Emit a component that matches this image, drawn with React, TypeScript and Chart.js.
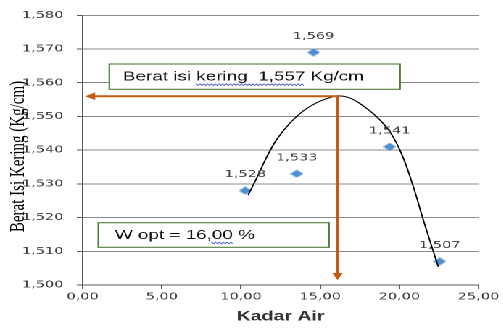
import React, { useEffect, useRef } from 'react';
import { Chart, registerables } from 'chart.js';

Chart.register(...registerables);

// ---- data ----
const xValues = [10.27, 13.52, 14.58, 19.39, 22.55];
const yValues = [1.528, 1.533, 1.569, 1.541, 1.507];
const pointLabels = ['1,528', '1,533', '1,569', '1,541', '1,507'];

const trendX = [10.45, 11.0, 11.63, 12.26, 13.1, 13.95, 14.79, 15.63, 16.1, 16.8, 17.52, 18.57, 19.41, 20.15, 20.88, 21.52, 22.15, 22.46];
const trendY = [1.5267, 1.5318, 1.538, 1.5432, 1.5481, 1.5517, 1.5541, 1.5556, 1.5561, 1.5556, 1.5538, 1.5499, 1.5454, 1.5388, 1.5292, 1.5192, 1.5099, 1.5054];

const xTickValues = [0, 5, 10, 15, 20, 25];
const xTickLabels = ['0,00', '5,00', '10,00', '15,00', '20,00', '25,00'];
const yTickValues = [1.5, 1.51, 1.52, 1.53, 1.54, 1.55, 1.56, 1.57, 1.58];
const yTickLabels = ['1,500', '1,510', '1,520', '1,530', '1,540', '1,550', '1,560', '1,570', '1,580'];

const optX = 16.1;
const optY = 1.556;
const arrowLeftX = 0.15;
const arrowBottomY = 1.5015;

const densityPrefix = 'Berat isi ';
const densityMarked = 'kering  1,557';
const densitySuffix = ' Kg/cm';
const woptPrefix = 'W opt = 16,';
const woptMarked = '00';
const woptSuffix = ' %';

const xTitle = 'Kadar Air';
const yTitle = 'Berat Isi Kering (Kg/cm)';

// ---- layout (logical px; the whole canvas is stretched horizontally) ----
const SX = 1.45;
const W = 347;
const H = 329;

const TICK_FONT = '10px "DejaVu Sans"';
const TEXT_COLOR = '#404040';
const ORANGE = '#c55a11';
const BOX_GREEN = '#4f7d3a';

function makeDiamond(): HTMLCanvasElement {
  const c = document.createElement('canvas');
  c.width = 9;
  c.height = 8;
  const g = c.getContext('2d')!;
  g.fillStyle = '#4f8fd0';
  g.beginPath();
  g.moveTo(4.5, 0);
  g.lineTo(9, 4);
  g.lineTo(4.5, 8);
  g.lineTo(0, 4);
  g.closePath();
  g.fill();
  return c;
}

function wavy(ctx: CanvasRenderingContext2D, x0: number, x1: number, y: number) {
  ctx.save();
  ctx.strokeStyle = '#4a63d8';
  ctx.lineWidth = 0.8;
  ctx.beginPath();
  let up = true;
  ctx.moveTo(x0, y);
  for (let px = x0; px <= x1; px += 1.3) {
    ctx.lineTo(px, y + (up ? -0.8 : 0.8));
    up = !up;
  }
  ctx.stroke();
  ctx.restore();
}

function drawBox(
  ctx: CanvasRenderingContext2D,
  bx: number, by: number, bw: number, bh: number, tx: number,
  prefix: string, marked: string, suffix: string
) {
  ctx.save();
  ctx.fillStyle = '#ffffff';
  ctx.fillRect(bx, by, bw, bh);
  ctx.strokeStyle = BOX_GREEN;
  ctx.lineWidth = 1.1;
  ctx.strokeRect(bx, by, bw, bh);
  ctx.font = '13px "Liberation Sans"';
  ctx.fillStyle = '#111111';
  ctx.textBaseline = 'middle';
  ctx.textAlign = 'left';
  const cy = by + bh / 2 + 0.5;
  const full = prefix + marked + suffix;
  ctx.fillText(full, tx, cy);
  const s = tx + ctx.measureText(prefix).width;
  const e = tx + ctx.measureText(prefix + marked).width;
  wavy(ctx, s, e, cy + 7.5);
  ctx.restore();
}

const annotPlugin = {
  id: 'annot',
  afterDatasetsDraw(chart: any) {
    const { ctx, scales } = chart;
    const x = scales.x;
    const y = scales.y;
    ctx.save();

    // text boxes
    drawBox(ctx, 75.4, 64, 200.5, 25.3, 84.8, densityPrefix, densityMarked, densitySuffix);
    drawBox(ctx, 67.8, 222.7, 159.1, 24.6, 79.3, woptPrefix, woptMarked, woptSuffix);

    // arrows
    const px = x.getPixelForValue(optX);
    const py = y.getPixelForValue(optY);
    const lx = x.getPixelForValue(arrowLeftX);
    const by = y.getPixelForValue(arrowBottomY);
    ctx.strokeStyle = ORANGE;
    ctx.fillStyle = ORANGE;
    ctx.lineWidth = 2;
    ctx.beginPath();
    ctx.moveTo(px + 0.7, py);
    ctx.lineTo(lx + 5, py);
    ctx.stroke();
    ctx.beginPath();
    ctx.moveTo(lx, py);
    ctx.lineTo(lx + 7, py - 3.8);
    ctx.lineTo(lx + 7, py + 3.8);
    ctx.closePath();
    ctx.fill();

    ctx.lineWidth = 1.8;
    ctx.beginPath();
    ctx.moveTo(px, py - 1);
    ctx.lineTo(px, by - 5);
    ctx.stroke();
    ctx.beginPath();
    ctx.moveTo(px, by);
    ctx.lineTo(px - 3.6, by - 7);
    ctx.lineTo(px + 3.6, by - 7);
    ctx.closePath();
    ctx.fill();

    // data labels
    const meta = chart.getDatasetMeta(1);
    ctx.font = TICK_FONT;
    ctx.fillStyle = TEXT_COLOR;
    ctx.textAlign = 'center';
    ctx.textBaseline = 'middle';
    meta.data.forEach((el: any, i: number) => {
      ctx.fillText(pointLabels[i], el.x, el.y - 16);
    });

    ctx.restore();
  },
  afterDraw(chart: any) {
    const { ctx, chartArea } = chart;
    ctx.save();
    // y title (overlapping tick labels)
    ctx.translate(12.4, 156.5);
    ctx.rotate(-Math.PI / 2);
    ctx.font = '15px "Liberation Serif"';
    ctx.fillStyle = '#000000';
    ctx.textAlign = 'center';
    ctx.textBaseline = 'middle';
    ctx.fillText(yTitle, 0, 0);
    ctx.restore();

    ctx.save();
    ctx.font = 'bold 13.5px "Liberation Sans"';
    ctx.fillStyle = '#333333';
    ctx.textAlign = 'center';
    ctx.textBaseline = 'middle';
    ctx.fillText(xTitle, (chartArea.left + chartArea.right) / 2, 317);
    ctx.restore();
  },
};

export default function App() {
  const ref = useRef<HTMLCanvasElement | null>(null);

  useEffect(() => {
    if (!ref.current) return;
    const diamond = makeDiamond();
    const chart = new Chart(ref.current, {
      type: 'scatter',
      data: {
        datasets: [
          {
            label: 'trend',
            data: trendX.map((v, i) => ({ x: v, y: trendY[i] })),
            showLine: true,
            borderColor: '#000000',
            borderWidth: 1,
            pointRadius: 0,
            tension: 0.4,
            fill: false,
          } as any,
          {
            label: 'data',
            data: xValues.map((v, i) => ({ x: v, y: yValues[i] })),
            pointStyle: diamond as any,
            pointRadius: 5,
            showLine: false,
          },
        ],
      },
      options: {
        animation: false,
        responsive: true,
        maintainAspectRatio: false,
        devicePixelRatio: 2,
        layout: { padding: { top: 15, right: 17, left: 0, bottom: 0 } },
        plugins: { legend: { display: false }, tooltip: { enabled: false } },
        scales: {
          x: {
            type: 'linear',
            min: 0,
            max: 25,
            afterBuildTicks: (s: any) => {
              s.ticks = xTickValues.map((v) => ({ value: v }));
            },
            afterFit: (s: any) => {
              s.height = 44;
            },
            ticks: {
              font: { family: 'DejaVu Sans', size: 10 },
              color: TEXT_COLOR,
              padding: 2,
              maxRotation: 0,
              autoSkip: false,
              callback: (_v: any, i: number) => xTickLabels[i],
            },
            grid: {
              display: true,
              drawOnChartArea: false,
              drawTicks: true,
              tickLength: 4,
              color: '#595959',
              tickColor: '#595959',
            },
            border: { display: true, color: '#595959', width: 1 },
          },
          y: {
            type: 'linear',
            min: 1.5,
            max: 1.58,
            afterBuildTicks: (s: any) => {
              s.ticks = yTickValues.map((v) => ({ value: v }));
            },
            afterFit: (s: any) => {
              s.width = 57;
            },
            ticks: {
              font: { family: 'DejaVu Sans', size: 10 },
              color: TEXT_COLOR,
              padding: 9.3,
              autoSkip: false,
              callback: (_v: any, i: number) => yTickLabels[i],
            },
            grid: {
              color: '#8a8a8a',
              lineWidth: 1,
              tickLength: 4,
              tickColor: '#595959',
            },
            border: { display: true, color: '#595959', width: 1 },
          },
        },
      },
      plugins: [annotPlugin],
    });
    return () => chart.destroy();
  }, []);

  return (
    <div
      style={{
        position: 'absolute',
        left: 0,
        top: 0,
        width: W + 'px',
        height: H + 'px',
        transform: `scaleX(${SX})`,
        transformOrigin: '0 0',
        background: '#ffffff',
      }}
    >
      <canvas ref={ref} />
    </div>
  );
}
